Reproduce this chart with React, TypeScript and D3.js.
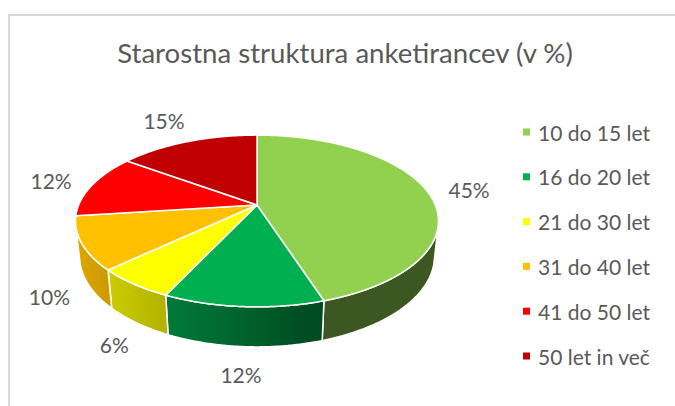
import React from 'react';
import * as d3 from 'd3';

// podatki
const categories = ['10 do 15 let', '16 do 20 let', '21 do 30 let', '31 do 40 let', '41 do 50 let', '50 let in več'];
const shares = [45, 12, 6, 10, 12, 15];
const sliceColors = ['#92d050', '#00b050', '#ffff00', '#ffc000', '#ff0000', '#c00000'];
const chartTitle = 'Starostna struktura anketirancev (v %)';

const W = 675;
const H = 406;
const FONT = 'Lato, "Open Sans", sans-serif';
const TEXT = '#595959';

// 3D view of the pie (unit radius, projected with perspective)
const CX = 257;
const CY = 205;
const K = 178.3;
const ELEV = (27.7 * Math.PI) / 180;
const DIST = 4.76;
const THICK = 0.2265;

type Pt = [number, number];

const project = (theta: number, r: number, z: number): Pt => {
  const X = r * Math.sin(theta);
  const Y = -r * Math.cos(theta);
  const sy = Y * Math.sin(ELEV) - z * Math.cos(ELEV);
  const dv = Y * Math.cos(ELEV) + z * Math.sin(ELEV);
  const s = 1 / (1 - dv / DIST);
  return [CX + K * X * s, CY + K * sy * s];
};

// side wall faces the viewer where cos(theta) < -1/(D cos elev)
const visFrom = Math.acos(-1 / (DIST * Math.cos(ELEV)));
const visTo = 2 * Math.PI - visFrom;

const arcPts = (a0: number, a1: number, z: number): Pt[] => {
  const n = Math.max(2, Math.ceil(Math.abs(a1 - a0) / 0.008));
  return d3.range(n + 1).map((i) => project(a0 + ((a1 - a0) * i) / n, 1, z));
};

const line = d3.line<Pt>();

// lighting on the side, brighter towards the left
const sideShade = (base: string, theta: number) => {
  const deg = (theta * 180) / Math.PI;
  const t = Math.max(0, Math.min(1, (deg - 165) / 95));
  const f = 0.42 + 0.45 * Math.sin((t * Math.PI) / 2);
  const c = d3.rgb(base);
  return d3.rgb(c.r * f, c.g * f, c.b * f).formatHex();
};

const color = d3.scaleOrdinal<string, string>().domain(categories).range(sliceColors);

export default function App() {
  const arcs = d3
    .pie<number>()
    .sort(null)
    .value((d) => d)(shares);

  const legendY = d3.scalePoint<string>().domain(categories).range([132, 356]);

  return (
    <svg
      width={W}
      height={H}
      style={{ position: 'absolute', left: 0, top: 0, background: '#fff' }}
      fontFamily={FONT}
    >
      <rect x={9} y={15} width={720} height={420} fill="#fff" stroke="#d9d9d9" strokeWidth={2} />

      <text x={345} y={63} textAnchor="middle" fontSize={27.6} fill={TEXT}>
        {chartTitle}
      </text>

      <defs>
        {arcs.map((a, i) => {
          const s0 = Math.max(a.startAngle, visFrom);
          const s1 = Math.min(a.endAngle, visTo);
          if (s1 <= s0) return null;
          const x1 = project(s0, 1, 0)[0];
          const x2 = project(s1, 1, 0)[0];
          const stops = d3.range(9).map((j) => s0 + ((s1 - s0) * j) / 8);
          return (
            <linearGradient key={i} id={`side${i}`} gradientUnits="userSpaceOnUse" x1={x1} y1={0} x2={x2} y2={0}>
              {stops.map((th, j) => (
                <stop
                  key={j}
                  offset={(project(th, 1, 0)[0] - x1) / (x2 - x1)}
                  stopColor={sideShade(color(categories[i]), th)}
                />
              ))}
            </linearGradient>
          );
        })}
      </defs>

      {/* side walls */}
      {arcs.map((a, i) => {
        const s0 = Math.max(a.startAngle, visFrom);
        const s1 = Math.min(a.endAngle, visTo);
        if (s1 <= s0) return null;
        const pts = [...arcPts(s0, s1, 0), ...arcPts(s1, s0, -THICK)];
        return (
          <path
            key={`s${i}`}
            d={line(pts) + 'Z'}
            fill={`url(#side${i})`}
            stroke="#fff"
            strokeWidth={1.5}
            strokeLinejoin="round"
          />
        );
      })}

      {/* top faces */}
      {arcs.map((a, i) => {
        const pts: Pt[] = [[CX, CY], ...arcPts(a.startAngle, a.endAngle, 0)];
        return (
          <path
            key={`t${i}`}
            d={line(pts) + 'Z'}
            fill={color(categories[i])}
            stroke="#fff"
            strokeWidth={1.5}
            strokeLinejoin="round"
          />
        );
      })}

      {/* data labels */}
      {arcs.map((a, i) => {
        const mid = (a.startAngle + a.endAngle) / 2;
        const front = mid > visFrom && mid < visTo;
        const p = project(mid, 1, front ? -THICK : 0);
        const dx = p[0] - CX;
        const dy = p[1] - CY;
        const len = Math.hypot(dx, dy);
        const ux = dx / len;
        const uy = dy / len;
        const edge = Math.min(21 / Math.max(Math.abs(ux), 1e-6), 8 / Math.max(Math.abs(uy), 1e-6));
        const L = edge + 20;
        return (
          <text
            key={`l${i}`}
            x={p[0] + ux * L}
            y={p[1] + uy * L}
            textAnchor="middle"
            dominantBaseline="central"
            fontSize={21}
            fill={TEXT}
          >
            {`${shares[i]}%`}
          </text>
        );
      })}

      {/* legend */}
      {categories.map((c) => (
        <g key={c} transform={`translate(523,${legendY(c)})`}>
          <rect x={0} y={-3.5} width={7} height={7} fill={color(c)} />
          <text x={15} y={0} dominantBaseline="central" fontSize={21} fill={TEXT}>
            {c}
          </text>
        </g>
      ))}
    </svg>
  );
}
